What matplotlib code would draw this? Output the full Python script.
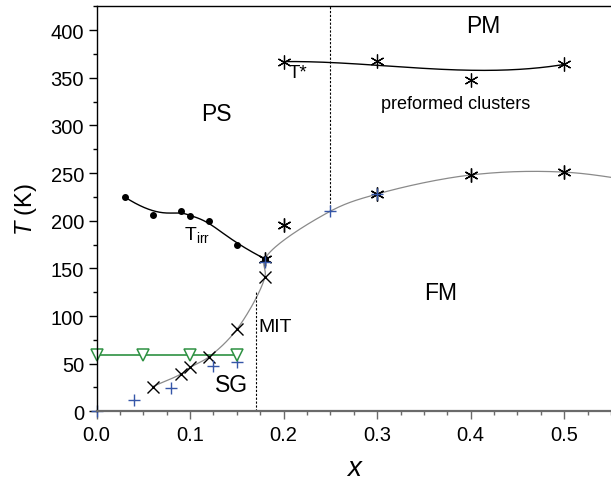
import numpy as np
import matplotlib.pyplot as plt

plt.rcParams['font.family'] = ['Liberation Sans', 'DejaVu Sans']
plt.rcParams['mathtext.fontset'] = 'custom'
plt.rcParams['mathtext.rm'] = 'Liberation Sans'
plt.rcParams['mathtext.it'] = 'Liberation Sans:italic'

# T_irr (filled circles)
x_irr = [0.03, 0.06, 0.09, 0.10, 0.12, 0.15, 0.18]
T_irr = [225, 206, 210, 205, 200, 175, 160]

# Tc (asterisks)
x_tc = [0.18, 0.20, 0.30, 0.40, 0.50]
T_tc = [160, 195, 228, 248, 251]

# blue crosses (+)
x_plus = [0.0, 0.04, 0.08, 0.125, 0.15, 0.18, 0.25, 0.30]
T_plus = [0, 12, 24, 48, 52, 157, 210, 228]

# x markers
x_cross = [0.06, 0.09, 0.10, 0.12, 0.15, 0.18]
T_cross = [26, 39, 46, 57, 86, 141]

# spin glass (open triangles)
x_sg = [0.0, 0.05, 0.10, 0.15]
T_sg = [59, 59, 59, 59]

# T* (asterisks, preformed clusters)
x_tstar = [0.20, 0.30, 0.40, 0.50]
T_tstar = [367, 368, 348, 364]

# grey guide line for the FM boundary (last point lies outside the frame)
x_fm = [0.06, 0.09, 0.10, 0.12, 0.15, 0.18, 0.18, 0.25, 0.30, 0.40, 0.50, 0.60]
T_fm = [26, 39, 46, 57, 86, 141, 160, 210, 228, 248, 251, 238]

x_mit, T_mit_top = 0.17, 125
x_pc, T_pc_bot = 0.25, 210

XMAX, TMAX = 0.55, 425
SX, SY = 515 / XMAX, 405 / TMAX  # roughly pixels per unit


def catmull_rom(xs, ys, n=40):
    # centripetal Catmull-Rom through the points (done in pixel-like units)
    P = np.column_stack([np.asarray(xs) * SX, np.asarray(ys) * SY])
    P = np.vstack([2 * P[0] - P[1], P, 2 * P[-1] - P[-2]])
    out = []
    for i in range(1, len(P) - 2):
        p0, p1, p2, p3 = P[i - 1], P[i], P[i + 1], P[i + 2]
        t0 = 0.0
        t1 = t0 + max(np.linalg.norm(p1 - p0), 1e-6) ** 0.5
        t2 = t1 + max(np.linalg.norm(p2 - p1), 1e-6) ** 0.5
        t3 = t2 + max(np.linalg.norm(p3 - p2), 1e-6) ** 0.5
        t = np.linspace(t1, t2, n)[:, None]
        a1 = (t1 - t) / (t1 - t0) * p0 + (t - t0) / (t1 - t0) * p1
        a2 = (t2 - t) / (t2 - t1) * p1 + (t - t1) / (t2 - t1) * p2
        a3 = (t3 - t) / (t3 - t2) * p2 + (t - t2) / (t3 - t2) * p3
        b1 = (t2 - t) / (t2 - t0) * a1 + (t - t0) / (t2 - t0) * a2
        b2 = (t3 - t) / (t3 - t1) * a2 + (t - t1) / (t3 - t1) * a3
        c = (t2 - t) / (t2 - t1) * b1 + (t - t1) / (t2 - t1) * b2
        out.append(c)
    C = np.vstack(out)
    return C[:, 0] / SX, C[:, 1] / SY


def bspline(xs, ys, k=3, n=300):
    # clamped cubic B-spline using the data points as control points
    P = np.column_stack([xs, ys]).astype(float)
    m = len(P)
    knots = np.concatenate([np.zeros(k), np.linspace(0, 1, m - k + 1), np.ones(k)])
    t = np.linspace(0, 1 - 1e-9, n)
    N = np.zeros((n, len(knots) - 1))
    for i in range(len(knots) - 1):
        N[:, i] = (knots[i] <= t) & (t < knots[i + 1])
    for d in range(1, k + 1):
        Nn = np.zeros((n, len(knots) - 1 - d))
        for i in range(len(knots) - 1 - d):
            a = knots[i + d] - knots[i]
            b = knots[i + d + 1] - knots[i + 1]
            left = (t - knots[i]) / a * N[:, i] if a > 0 else 0
            right = (knots[i + d + 1] - t) / b * N[:, i + 1] if b > 0 else 0
            Nn[:, i] = left + right
        N = Nn
    C = N @ P
    C = np.vstack([C, P[-1]])
    return C[:, 0], C[:, 1]


fig = plt.figure(figsize=(6.11, 4.81), dpi=100)
ax = fig.add_axes([0.158, 0.1428, 0.842, 0.842])

# guide lines
gx, gy = catmull_rom(x_fm, T_fm)
ax.plot(gx, gy, color='#8a8a8a', lw=0.9)
ix, iy = bspline(x_irr, T_irr)
ax.plot(ix, iy, color='black', lw=1.0)
sx, sy = bspline(x_tstar, T_tstar)
ax.plot(sx, sy, color='black', lw=1.0)
ax.plot(x_sg, T_sg, color='#2e9142', lw=1.2)

ax.plot([x_mit, x_mit], [0, T_mit_top], color='black', lw=0.8, ls=(0, (2, 1.5)))
ax.plot([x_pc, x_pc], [T_pc_bot, TMAX], color='black', lw=0.8, ls=(0, (2, 1.5)))

# markers
ast = (6, 2, 0)
ax.plot(x_irr, T_irr, 'o', color='black', ms=4, clip_on=False)
ax.plot(x_tc, T_tc, ls='none', marker=ast, color='black', ms=10, mew=1.0)
ax.plot(x_tstar, T_tstar, ls='none', marker=ast, color='black', ms=10, mew=0.9)
ax.plot(x_cross, T_cross, 'x', color='black', ms=9, mew=1.0)
ax.plot(x_plus, T_plus, '+', color='#3556a8', ms=8, mew=1.0, clip_on=False)
ax.plot(x_sg, T_sg, 'v', mfc='white', mec='#2e9142', ms=9, mew=1.1, clip_on=False)

# region labels
ax.text(0.413, 405, 'PM', fontsize=16.5, ha='center', va='center')
ax.text(0.128, 313, 'PS', fontsize=16.5, ha='center', va='center')
ax.text(0.368, 125, 'FM', fontsize=16.5, ha='center', va='center')
ax.text(0.144, 28, 'SG', fontsize=16.5, ha='center', va='center')
ax.text(0.191, 89, 'MIT', fontsize=14, ha='center', va='center')
ax.text(0.384, 323, 'preformed clusters', fontsize=13, ha='center', va='center')
ax.text(0.215, 356, 'T*', fontsize=13.5, ha='center', va='center')
ax.text(0.107, 186, r'$\mathregular{T_{irr}}$', fontsize=14, ha='center', va='center')

ax.set_xlim(0, XMAX)
ax.set_ylim(0, TMAX)
ax.set_xticks(np.arange(0, 0.51, 0.1))
ax.set_xticks(np.arange(0, 0.551, 0.025), minor=True)
ax.set_xticklabels(['0.0', '0.1', '0.2', '0.3', '0.4', '0.5'])
ax.set_yticks(np.arange(0, 401, 50))
ax.set_yticks(np.arange(0, 426, 25), minor=True)

ax.spines['right'].set_visible(False)
ax.spines['left'].set_linewidth(1.0)
ax.spines['top'].set_linewidth(1.0)
ax.spines['bottom'].set_color('#6a6a6a')
ax.spines['bottom'].set_linewidth(1.6)
ax.tick_params(axis='both', which='major', direction='out', length=6, width=1,
               labelsize=14.5, pad=3)
ax.tick_params(axis='both', which='minor', direction='out', length=3, width=1)
ax.tick_params(axis='x', which='both', color='#6a6a6a', pad=4)
ax.tick_params(top=False, right=False, which='both')

ax.set_xlabel('x', fontsize=20, style='italic', labelpad=8)
ax.set_ylabel(r'$\mathit{T}$ (K)', fontsize=17, labelpad=8)

fig.savefig('out.png', dpi=100)
